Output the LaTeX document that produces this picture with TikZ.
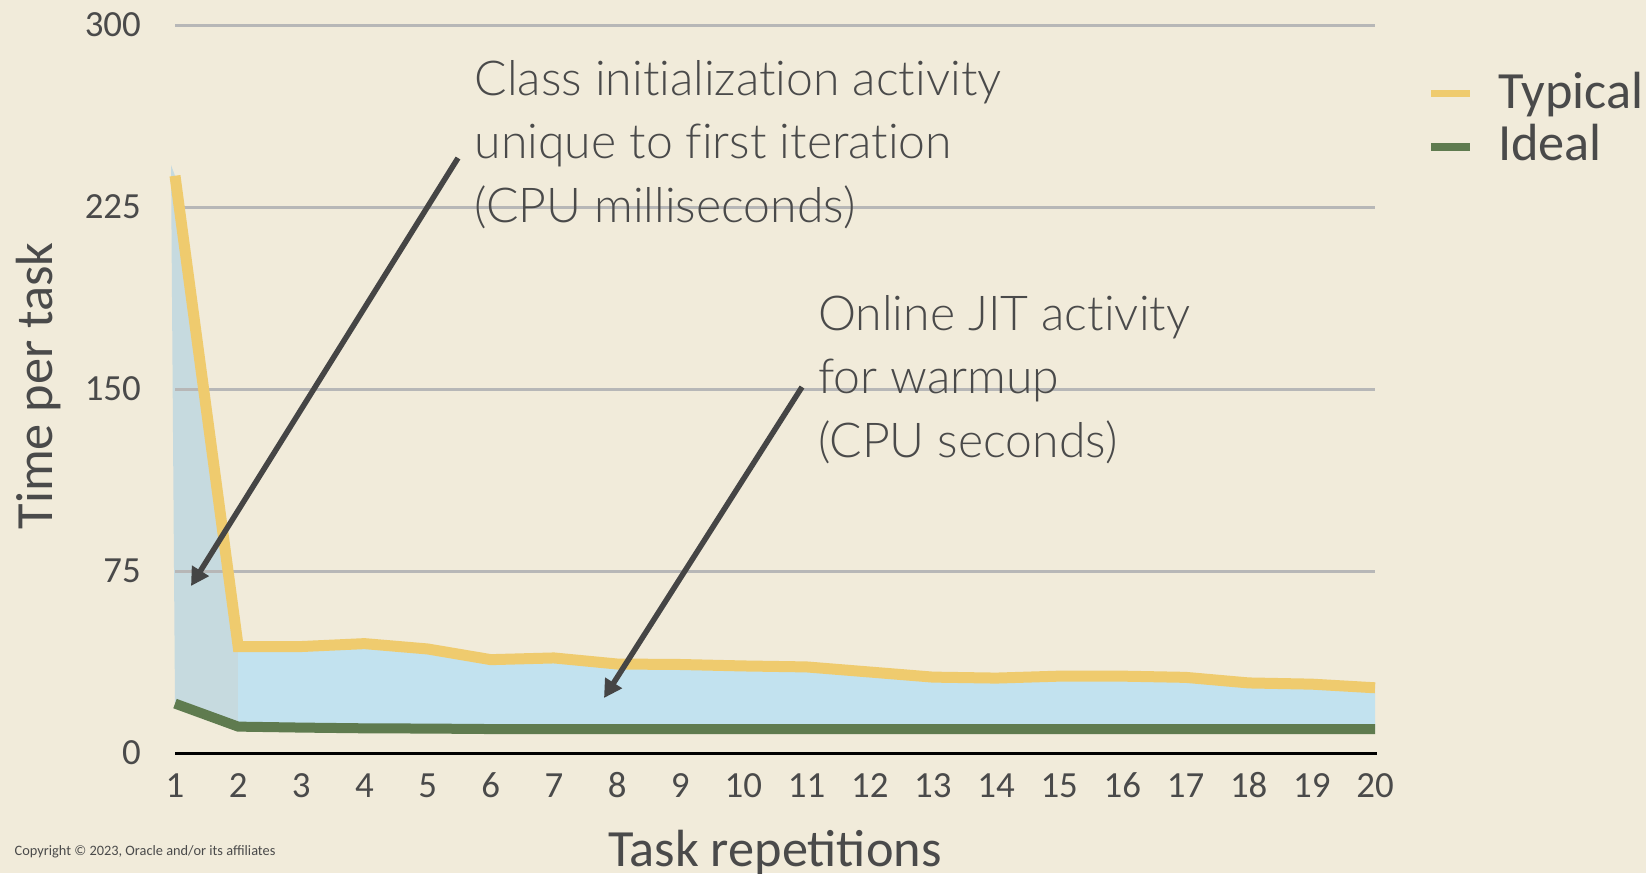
\documentclass[tikz,border=0pt]{standalone}
\usepackage{fontspec}
\setmainfont{Carlito}
\newfontfamily\notefont{Lato}[UprightFont=* Light, Ligatures=NoCommon]
\usetikzlibrary{arrows.meta}

\definecolor{paper}{HTML}{F1EBDA}
\definecolor{typicalc}{HTML}{EFCB6E}
\definecolor{idealc}{HTML}{5F7B4F}
\definecolor{gapfill}{HTML}{C2E2EF}
\definecolor{firstfill}{HTML}{C6DADF}
\definecolor{gridc}{HTML}{B7B7B7}
\definecolor{ink}{HTML}{4A4A4A}
\definecolor{pointerc}{HTML}{454545}

\tikzset{
  gridline/.style={draw=gridc, line width=2.5bp},
  baseaxis/.style={draw=black, line width=3bp},
  typicalline/.style={draw=typicalc, line width=11bp, line join=miter, line cap=butt},
  idealline/.style={draw=idealc, line width=10bp, line join=miter, line cap=butt},
  ticklabel/.style={text=ink, inner sep=0pt, font=\fontsize{37}{42}\selectfont},
  axistitle/.style={text=ink, inner sep=0pt, font=\fontsize{52.5}{60}\selectfont},
  notetext/.style={text=ink, inner sep=0pt, align=left, font=\notefont\fontsize{48.3}{63.5}\selectfont},
  legendtext/.style={text=ink, inner sep=0pt, font=\fontsize{52.5}{60}\selectfont},
  pointer/.style={draw=pointerc, line width=5.5bp, -{Triangle[length=18bp,width=19bp]}, fill=pointerc},
  keyline/.style={line width=7.5bp, line cap=butt},
}

\begin{document}
\begin{tikzpicture}[x=1bp, y=-1bp]
  % page
  \fill[paper] (0,0) rectangle (1646,873);
  \useasboundingbox (0,0) rectangle (1646,873);

  % plot area: task index (0 = first task) across, time per task up
  \begin{scope}[shift={(175bp,-753.3bp)}, x=63.158bp, y=2.4267bp]
    % first-iteration overhead
    \fill[firstfill] (-0.063,242.4) -- (0,238) -- (1,44) -- (1,11) -- (0,20.5) -- cycle;
    % warm-up gap between typical and ideal
    \fill[gapfill] (1,44) -- (2,44) -- (3,45.2) -- (4,43) -- (5,38.6) -- (6,39.3)
      -- (7,36.8) -- (8,36.6) -- (9,36) -- (10,35.6) -- (11,33.5) -- (12,31.4)
      -- (13,31) -- (14,31.8) -- (15,31.8) -- (16,31.3) -- (17,29) -- (18,28.5)
      -- (19,27) -- (19,10) -- (5,10) -- (4,10.2) -- (3,10.3) -- (2,10.6) -- (1,11) -- cycle;
  \end{scope}

  % horizontal grid
  \foreach \gy in {25.3,207.3,389.3,571.3}
    \draw[gridline] (175,\gy) -- (1375,\gy);

  \begin{scope}[shift={(175bp,-753.3bp)}, x=63.158bp, y=2.4267bp]
    \draw[typicalline] (0,238) -- (1,44) -- (2,44) -- (3,45.2) -- (4,43) -- (5,38.6)
      -- (6,39.3) -- (7,36.8) -- (8,36.6) -- (9,36) -- (10,35.6) -- (11,33.5)
      -- (12,31.4) -- (13,31) -- (14,31.8) -- (15,31.8) -- (16,31.3) -- (17,29)
      -- (18,28.5) -- (19,27);
    \draw[idealline] (0,20.5) -- (1,11) -- (2,10.6) -- (3,10.3) -- (4,10.2) -- (5,10)
      -- (19,10);
  \end{scope}

  % value axis baseline
  \draw[baseaxis] (175,753.3) -- (1377,753.3);

  % value labels (baseline half a digit below each grid line)
  \node[ticklabel, anchor=base east] (v300) at (141,36.8) {300};
  \node[ticklabel, anchor=base east] (v225) at (141,218.8) {225};
  \node[ticklabel, anchor=base east] (v150) at (141,400.8) {150};
  \node[ticklabel, anchor=base east] (v75)  at (141,582.8) {75};
  \node[ticklabel, anchor=base east] (v0)   at (141,764.8) {0};

  % task labels
  \foreach \i in {1,...,20}
    \node[ticklabel, anchor=base] (t\i) at ({175+(\i-1)*63.158},797.5) {\i};

  % axis titles
  \node[axistitle, rotate=90, anchor=base] (ytitle) at (52.5,386) {Time per task};
  \node[axistitle, anchor=base] (xtitle) at (775,866) {Task repetitions};

  % annotations (anchored on the baseline of their last line)
  \node[notetext, anchor=base west] (initnote) at (474.5,222)
    {Class initialization activity\\unique to first iteration\\(CPU milliseconds)};
  \node[notetext, anchor=base west] (jitnote) at (818,457)
    {Online JIT activity\\for warmup\\(CPU seconds)};

  \coordinate (inittail) at (458,158);
  \coordinate (inittip) at (191,586);
  \coordinate (jittail) at (802,387);
  \coordinate (jittip) at (604,698);
  \draw[pointer] (inittail) -- (inittip);
  \draw[pointer] (jittail) -- (jittip);

  % legend
  \coordinate (typkeyA) at (1431,93.5);
  \coordinate (typkeyB) at (1470,93.5);
  \coordinate (idlkeyA) at (1431,147);
  \coordinate (idlkeyB) at (1470,147);
  \draw[keyline, typicalc] (typkeyA) -- (typkeyB);
  \draw[keyline, idealc] (idlkeyA) -- (idlkeyB);
  \node[legendtext, anchor=base west] (typtext) at (1498,108) {Typical};
  \node[legendtext, anchor=base west] (idltext) at (1498,160.5) {Ideal};

  % footer
  \node[text=ink, inner sep=0pt, anchor=base west, font=\fontsize{14.4}{17}\selectfont]
    (copyright) at (14.5,855.5) {Copyright © 2023, Oracle and/or its affiliates};
\end{tikzpicture}
\end{document}
